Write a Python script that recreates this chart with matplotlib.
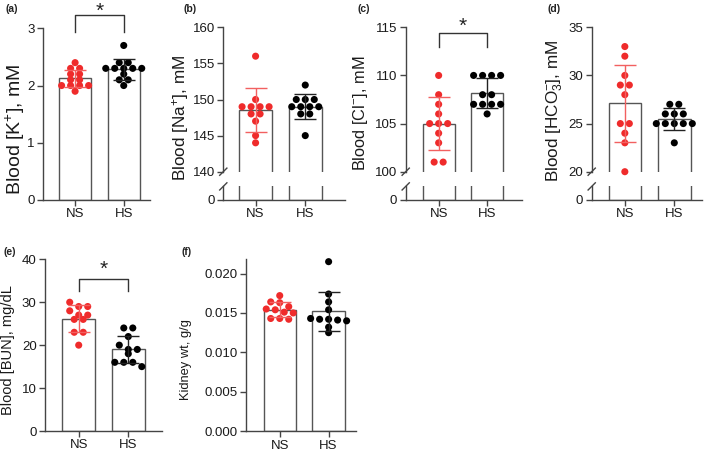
import numpy as np
import matplotlib
matplotlib.use("Agg")
import matplotlib.pyplot as plt
from matplotlib.lines import Line2D

plt.rcParams['font.family'] = ['Liberation Sans', 'DejaVu Sans']
plt.rcParams['mathtext.fontset'] = 'custom'
plt.rcParams['mathtext.rm'] = 'Liberation Sans'
plt.rcParams['mathtext.it'] = 'Liberation Sans:italic'
plt.rcParams['mathtext.bf'] = 'Liberation Sans:bold'

# ---- data ----
groups = ["NS", "HS"]

k_ns = [2.4, 2.3, 2.3, 2.2, 2.2, 2.1, 2.1, 2.0, 2.0, 2.0, 2.0, 1.9]
k_hs = [2.7, 2.4, 2.4, 2.3, 2.3, 2.3, 2.3, 2.3, 2.2, 2.1, 2.1, 2.0]

na_ns = [156, 150, 149, 149, 149, 149, 148, 148, 147, 145, 144]
na_hs = [152, 150, 150, 150, 149, 149, 149, 149, 148, 148, 145]

cl_ns = [110, 108, 107, 106, 105, 105, 105, 104, 103, 101, 101]
cl_hs = [110, 110, 110, 110, 108, 108, 107, 107, 107, 107, 106]

hco3_ns = [33, 32, 30, 29, 29, 28, 25, 25, 24, 23, 20]
hco3_hs = [27, 27, 26, 26, 26, 25, 25, 25, 25, 25, 23]

bun_ns = [30, 29, 29, 28, 27, 27, 26, 26, 23, 23, 20]
bun_hs = [24, 24, 22, 20, 19, 19, 18, 16, 16, 16, 15]

kw_ns = [0.0172, 0.0164, 0.0163, 0.0158, 0.0155, 0.0154,
         0.0151, 0.0150, 0.0143, 0.0143, 0.0142]
kw_hs = [0.0215, 0.0174, 0.0164, 0.0154, 0.0142, 0.0143,
         0.0141, 0.0142, 0.0140, 0.0132, 0.0125]

# ---- style ----
W, H = 709, 451
RED = '#ef2b2b'
RED_ERR = '#f26060'
BLACK = '#000000'
EDGE = '#555555'
SPINE = '#444444'
TICK_FS = 9.5

fig = plt.figure(figsize=(W / 100, H / 100), dpi=100)


def rect(l, t, r, b):
    return [l / W, 1 - b / H, (r - l) / W, (b - t) / H]


def fxy(x, y):
    return x / W, 1 - y / H


def style_axis(ax, show_bottom=True):
    for s in ['top', 'right']:
        ax.spines[s].set_visible(False)
    for s in ['left', 'bottom']:
        ax.spines[s].set_color(SPINE)
        ax.spines[s].set_linewidth(1.0)
    if not show_bottom:
        ax.spines['bottom'].set_visible(False)
        ax.tick_params(axis='x', bottom=False, labelbottom=False)
    ax.tick_params(axis='both', direction='out', length=4, width=1.0,
                   color=SPINE, labelsize=TICK_FS, labelcolor='#1a1a1a', pad=2)
    ax.set_facecolor('none')


def swarm_x(ax, vals, xc, gap_px=9.0, row_px=5.0):
    vals = np.asarray(vals, float)
    disp = ax.transData.transform(np.column_stack([np.full(vals.size, xc), vals]))
    ypix = disp[:, 1]
    order = np.argsort(-ypix)
    rows = []
    for i in order:
        if rows and abs(ypix[rows[-1][0]] - ypix[i]) < row_px:
            rows[-1].append(i)
        else:
            rows.append([i])
    inv = ax.transData.inverted()
    xs = np.full(vals.size, float(xc))
    for row in rows:
        n = len(row)
        for j, i in enumerate(row):
            off = (j - (n - 1) / 2) * gap_px
            xs[i] = inv.transform((disp[0, 0] + off, ypix[i]))[0]
    return xs


def draw_bars(ax, pair, width=0.66):
    for xc, vals in enumerate(pair):
        ax.bar(xc, np.mean(vals), width=width, color='white', edgecolor=EDGE,
               linewidth=1.0, zorder=1)


def draw_points(ax, pair):
    cols = [RED, BLACK]
    ecols = [RED_ERR, '#222222']
    for xc, vals in enumerate(pair):
        xs = swarm_x(ax, vals, xc)
        ax.scatter(xs, vals, s=26, color=cols[xc], edgecolor='none', zorder=2,
                   clip_on=False)
        m, sd = np.mean(vals), np.std(vals, ddof=1)
        ax.errorbar(xc, m, yerr=sd, fmt='none', ecolor=ecols[xc], elinewidth=1.0,
                    capsize=8, capthick=1.0, zorder=3)


def simple_panel(box, xlim, pair, ylim, yticks, fmt=None):
    ax = fig.add_axes(rect(*box))
    ax.set_xlim(*xlim)
    ax.set_ylim(*ylim)
    ax.set_yticks(yticks)
    if fmt:
        ax.set_yticklabels([fmt % v for v in yticks])
    ax.set_xticks([0, 1])
    ax.set_xticklabels(groups)
    style_axis(ax)
    draw_bars(ax, pair)
    draw_points(ax, pair)
    return ax


def broken_panel(l, r, xlim, pair, ylim, yticks):
    top_y, brk_top, brk_bot, base_y = 27.3, 171.7, 186.4, 200.0
    ax = fig.add_axes(rect(l, top_y, r, brk_top))
    ax.set_xlim(*xlim)
    ax.set_ylim(*ylim)
    ax.set_yticks(yticks)
    style_axis(ax, show_bottom=False)
    draw_bars(ax, pair)
    draw_points(ax, pair)

    axb = fig.add_axes(rect(l, brk_bot, r, base_y))
    axb.set_xlim(*xlim)
    axb.set_ylim(0, 1)
    axb.set_yticks([0])
    axb.set_xticks([0, 1])
    axb.set_xticklabels(groups)
    style_axis(axb)
    draw_bars(axb, pair)

    for yy in (brk_top, brk_bot):
        x0, y0 = fxy(l - 3.6, yy + 3.6)
        x1, y1 = fxy(l + 3.6, yy - 3.6)
        fig.add_artist(Line2D([x0, x1], [y0, y1], transform=fig.transFigure,
                              color=SPINE, lw=1.0))
    return ax


def bracket(ax, top, leg, star_y, star_fs=15):
    ax.plot([0, 0, 1, 1], [leg, top, top, leg], color='#333333', lw=1.0,
            clip_on=False)
    ax.text(0.5, star_y, '*', ha='center', va='center', fontsize=star_fs,
            color='#222222', clip_on=False)


# (a) potassium
ax_a = simple_panel((43, 28.3, 150, 200), (-0.66, 1.54), [k_ns, k_hs],
                    (0, 3), [0, 1, 2, 3])
bracket(ax_a, 3.23, 2.93, 3.30)

# (b) sodium
ax_b = broken_panel(223.3, 345, (-0.65, 1.80), [na_ns, na_hs],
                    (140, 160), [140, 145, 150, 155, 160])

# (c) chloride
ax_c = broken_panel(405.7, 522, (-0.68, 1.72), [cl_ns, cl_hs],
                    (100, 115), [100, 105, 110, 115])
bracket(ax_c, 114.38, 113.0, 115.1)

# (d) bicarbonate
ax_d = broken_panel(591.7, 702, (-0.67, 1.56), [hco3_ns, hco3_hs],
                    (20, 35), [20, 25, 30, 35])

# (e) BUN
ax_e = simple_panel((45, 259.3, 162, 431), (-0.68, 1.68), [bun_ns, bun_hs],
                    (0, 40), [0, 10, 20, 30, 40])
bracket(ax_e, 35.4, 32.5, 37.6)

# (f) kidney weight
ax_f = simple_panel((246, 259.3, 356, 431.3), (-0.69, 1.56), [kw_ns, kw_hs],
                    (0, 0.0218), [0, 0.005, 0.010, 0.015, 0.020], fmt='%.3f')

# y labels
ylabels = [
    ('Blood [K$^{+}$], mM', 15, 129, 14.0),
    ('Blood [Na$^{+}$], mM', 181, 118, 12.3),
    ('Blood [Cl$^{-}$], mM', 361, 113, 11.8),
    ('Blood [HCO$_{3}^{-}$], mM', 555, 111, 12.3),
    ('Blood [BUN], mg/dL', 8, 350, 10.5),
    ('Kidney wt, g/g', 186.5, 360, 9.3),
]
for txt, x, y, fs in ylabels:
    fig.text(*fxy(x, y), txt, rotation=90, ha='center', va='center',
             fontsize=fs, color='#1a1a1a')

# panel letters
letters = [('(a)', 5, 9), ('(b)', 183, 9), ('(c)', 357, 9), ('(d)', 548, 9),
           ('(e)', 3, 252), ('(f)', 182, 252)]
for txt, x, y in letters:
    fig.text(*fxy(x, y), txt, ha='left', va='center', fontsize=7.5,
             fontweight='bold', color='#222222')

fig.savefig('out.png', dpi=100)
